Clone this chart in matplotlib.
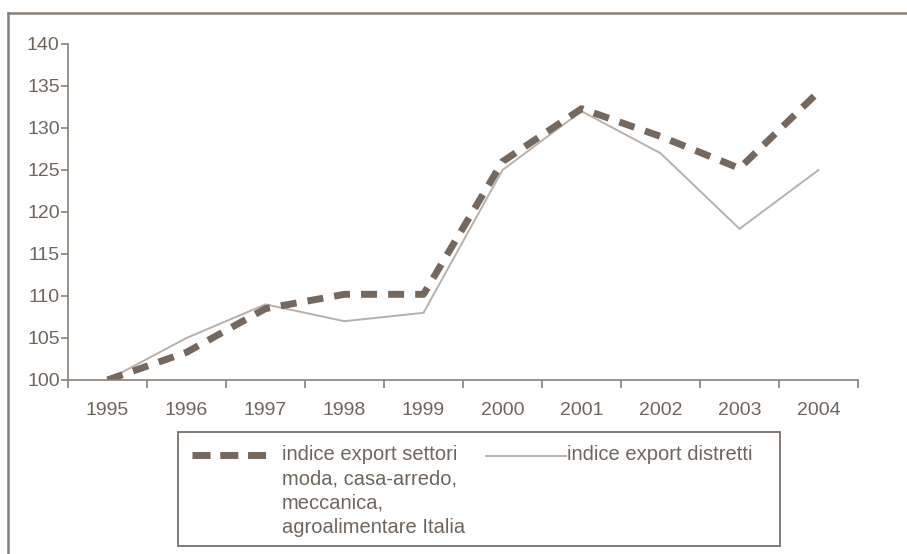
import matplotlib
matplotlib.use("Agg")
import matplotlib.pyplot as plt
from matplotlib.lines import Line2D
from matplotlib.patches import Rectangle

plt.rcParams['font.family'] = ['Liberation Sans', 'DejaVu Sans']

years = ["1995", "1996", "1997", "1998", "1999", "2000", "2001", "2002", "2003", "2004"]
settori = [100.0, 103.3, 108.5, 110.2, 110.2, 126.0, 132.3, 129.0, 125.2, 134.3]
distretti = [100.0, 105.0, 109.0, 107.0, 108.0, 125.0, 132.0, 127.0, 118.0, 125.0]
y_ticks = [100, 105, 110, 115, 120, 125, 130, 135, 140]

label_settori = "indice export settori\nmoda, casa-arredo,\nmeccanica,\nagroalimentare Italia"
label_distretti = "indice export distretti"

dark = "#75685e"
light = "#b9b0a9"
axis_col = "#8a7f76"
text_col = "#6e655d"

W, H = 907, 554
fig = plt.figure(figsize=(W / 100, H / 100), dpi=100)

def fx(px):
    return px / W

def fy(py):
    return 1 - py / H

ax = fig.add_axes([fx(68), fy(380), fx(858) - fx(68), fy(44) - fy(380)])
x = list(range(len(years)))
ax.plot(x, distretti, color=light, lw=1.4, solid_joinstyle="miter")
ax.plot(x, settori, color=dark, lw=5, dashes=(2.3, 1.6), dash_capstyle="butt")

ax.set_xlim(-0.5, len(years) - 0.5)
ax.set_ylim(100, 140)
ax.set_yticks(y_ticks)
ax.set_yticklabels([str(v) for v in y_ticks])
ax.set_xticks([i - 0.5 for i in range(len(years) + 1)], minor=False)
ax.set_xticklabels([""] * (len(years) + 1))
ax.set_xticks(x, minor=True)
ax.set_xticklabels(years, minor=True)
ax.tick_params(axis="x", which="major", direction="out", length=6, color=axis_col, width=1.2)
ax.tick_params(axis="x", which="minor", length=0, pad=16, labelsize=14, labelcolor=text_col)
ax.tick_params(axis="y", direction="out", length=5, color=axis_col, width=1.2,
               labelsize=14, labelcolor=text_col, pad=1)
for s in ("top", "right"):
    ax.spines[s].set_visible(False)
for s in ("left", "bottom"):
    ax.spines[s].set_color(axis_col)
    ax.spines[s].set_linewidth(1.2)

# outer frame
fig.add_artist(Line2D([fx(8), fx(8)], [0, fy(13)], color=axis_col, lw=1.8))
fig.add_artist(Line2D([fx(8), 1], [fy(13), fy(13)], color=axis_col, lw=1.8))

# legend box
fig.add_artist(Rectangle((fx(178), fy(546)), fx(780) - fx(178), fy(432) - fy(546),
                         fill=False, edgecolor="#7a7068", lw=1.3))
fig.add_artist(Line2D([fx(192), fx(266)], [fy(455), fy(455)], color=dark, lw=5,
                      dashes=(2.6, 1.4), dash_capstyle="butt"))
fig.text(fx(282), fy(445), label_settori, ha="left", va="top", fontsize=14.5,
         color=text_col, linespacing=1.36)
fig.add_artist(Line2D([fx(486), fx(566)], [fy(456), fy(456)], color=light, lw=1.4))
fig.text(fx(567), fy(445), label_distretti, ha="left", va="top", fontsize=14.5,
         color=text_col)

fig.savefig("out.png", dpi=100)
